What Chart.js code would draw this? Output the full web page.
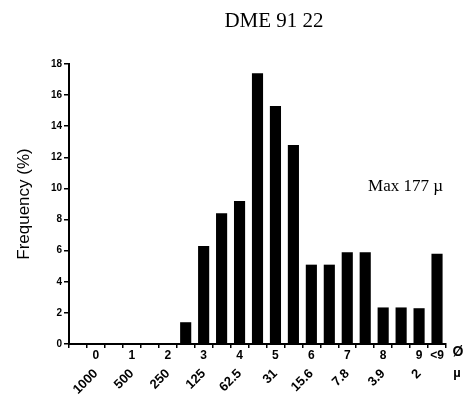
<!DOCTYPE html>
<html>
<head>
<meta charset="utf-8">
<script src="https://cdn.jsdelivr.net/npm/chart.js@4"></script>
<style>
  html, body { margin: 0; padding: 0; background: #fff; }
  #wrap { width: 465px; height: 406px; }
</style>
</head>
<body>
<div id="wrap"><canvas id="chart" width="465" height="406"></canvas></div>
<script>
// classes granulométriques (phi) et tailles en microns
const phiLabels = ['', '0', '', '1', '', '2', '', '3', '', '4', '', '5', '', '6', '', '7', '', '8', '', '9', '<9'];
const micronLabels = ['', '1000', '', '500', '', '250', '', '125', '', '62.5', '', '31', '', '15.6', '', '7.8', '', '3.9', '', '2', ''];
// fréquences (%)
const frequency = [0, 0, 0, 0, 0, 0, 1.4, 6.3, 8.4, 9.2, 17.4, 15.3, 12.8, 5.1, 5.1, 5.9, 5.9, 2.35, 2.35, 2.3, 5.8];
const yTicks = [0, 2, 4, 6, 8, 10, 12, 14, 16, 18];

const tickFont = { family: 'Liberation Sans', size: 10, weight: 'bold' };

// textes libres : titre, "Max 177 µ", unités à droite des axes
const textPlugin = {
  id: 'texts',
  afterDraw(chart) {
    const ctx = chart.ctx;
    const area = chart.chartArea;
    const y = chart.scales.y;
    ctx.save();
    ctx.fillStyle = '#000';
    ctx.textBaseline = 'middle';
    ctx.textAlign = 'center';
    ctx.font = '21px "Liberation Serif"';
    ctx.fillText('DME 91 22', 274, 21);
    ctx.font = '17px "Liberation Serif"';
    ctx.textAlign = 'right';
    ctx.fillText('Max 177 \u00b5', area.right - 3, y.getPixelForValue(10.1));
    ctx.textAlign = 'center';
    ctx.font = 'bold 14px "Liberation Sans"';
    ctx.fillText('\u00d8', 458, 352);
    ctx.font = 'bold 13px "Liberation Sans"';
    ctx.fillText('\u00b5', 457, 373);
    ctx.restore();
  }
};

const ctx = document.getElementById('chart').getContext('2d');
new Chart(ctx, {
  type: 'bar',
  data: {
    labels: phiLabels,
    datasets: [{
      data: frequency,
      backgroundColor: '#000',
      borderWidth: 0,
      barPercentage: 0.62,
      categoryPercentage: 1
    }]
  },
  options: {
    responsive: false,
    animation: false,
    layout: { padding: { top: 64, right: 19, bottom: 0, left: 0 } },
    plugins: { legend: { display: false }, tooltip: { enabled: false } },
    scales: {
      x: {
        type: 'category',
        position: 'bottom',
        grid: { drawOnChartArea: false, drawTicks: true, tickLength: 4, color: '#000', lineWidth: 1.5 },
        border: { display: true, color: '#000', width: 2 },
        ticks: { color: '#000', font: { family: 'Liberation Sans', size: 12, weight: 'bold' }, autoSkip: false, maxRotation: 0, padding: 0 },
        afterFit(scale) { scale.height = 20; }
      },
      x2: {
        type: 'category',
        position: 'bottom',
        labels: micronLabels,
        offset: true,
        grid: { display: false },
        border: { display: false },
        ticks: { color: '#000', font: { family: 'Liberation Sans', size: 13, weight: 'bold' }, autoSkip: false, minRotation: 45, maxRotation: 45, padding: -6 },
        afterFit(scale) { scale.height = 42; }
      },
      y: {
        min: 0,
        max: 18,
        afterBuildTicks(scale) { scale.ticks = yTicks.map(v => ({ value: v })); },
        grid: { drawOnChartArea: false, drawTicks: true, tickLength: 5, color: '#000', lineWidth: 1.5 },
        border: { display: true, color: '#000', width: 2 },
        ticks: { color: '#000', font: tickFont, padding: 2 },
        title: {
          display: true,
          text: 'Frequency (%)',
          color: '#000',
          font: { family: 'Liberation Sans', size: 17 },
          padding: { top: 14, bottom: 0 }
        },
        afterFit(scale) { scale.width = 69; }
      }
    }
  },
  plugins: [textPlugin]
});
</script>
</body>
</html>
